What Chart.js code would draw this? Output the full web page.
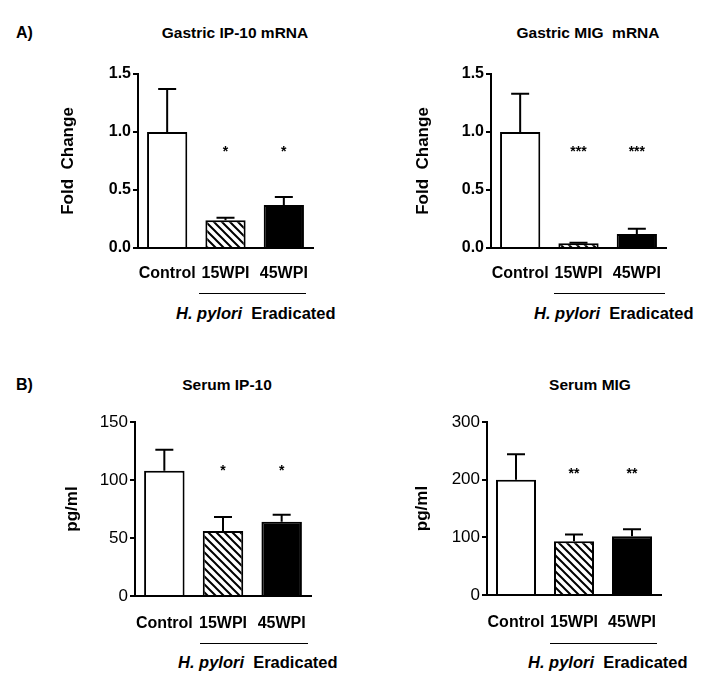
<!DOCTYPE html>
<html lang="en">
<head>
  <meta charset="UTF-8">
  <title>IP-10 and MIG after H. pylori eradication</title>
  <script src="https://cdn.jsdelivr.net/npm/chart.js"></script>
  <style>
    body {
      margin: 0;
      background: #fff;
      font-family: "Liberation Sans", Arial, sans-serif;
      color: #000;
    }
    .page {
      position: relative;
      width: 712px;
      height: 682px;
      overflow: hidden;
    }
    .page canvas {
      position: absolute;
    }
    .lbl {
      position: absolute;
      font-weight: bold;
      white-space: pre;
      line-height: 1;
    }
    .panel-title {
      font-size: 15.5px;
      transform: translate(-50%, -50%);
    }
    .panel-tag {
      font-size: 16px;
      transform: translateY(-50%);
    }
    .group-line {
      position: absolute;
      border-top: 1.5px solid #000;
    }
    .group-name {
      font-size: 16.5px;
      transform: translateY(-50%);
    }
  </style>
</head>
<body>
  <div class="page" id="page">
    <div class="lbl panel-tag" style="left:16px; top:33px;">A)</div>
    <div class="lbl panel-tag" style="left:16px; top:385px;">B)</div>

    <div class="lbl panel-title" style="left:235px; top:33px;">Gastric IP-10 mRNA</div>
    <div class="lbl panel-title" style="left:588px; top:33px;">Gastric MIG  mRNA</div>
    <div class="lbl panel-title" style="left:227px; top:385px;">Serum IP-10</div>
    <div class="lbl panel-title" style="left:590px; top:385px;">Serum MIG</div>

    <!-- H. pylori eradicated group brackets -->
    <div class="group-line" style="left:199px; top:293px; width:107px;"></div>
    <div class="group-line" style="left:554px; top:293px; width:111px;"></div>
    <div class="group-line" style="left:200px; top:643px; width:108px;"></div>
    <div class="group-line" style="left:550px; top:643px; width:107px;"></div>
    <div class="lbl group-name" style="left:176px; top:313px;"><i>H. pylori</i>  Eradicated</div>
    <div class="lbl group-name" style="left:534px; top:313px;"><i>H. pylori</i>  Eradicated</div>
    <div class="lbl group-name" style="left:178px; top:662px;"><i>H. pylori</i>  Eradicated</div>
    <div class="lbl group-name" style="left:528px; top:662px;"><i>H. pylori</i>  Eradicated</div>
  </div>

  <script>
    // ---- data ----
    const groups = ['Control', '15WPI', '45WPI'];

    const ip10Mrna = [1.0, 0.24, 0.37];
    const ip10MrnaErr = [0.37, 0.02, 0.07];
    const ip10MrnaStars = ['', '*', '*'];

    const migMrna = [1.0, 0.04, 0.12];
    const migMrnaErr = [0.33, 0.006, 0.045];
    const migMrnaStars = ['', '***', '***'];

    const ip10Serum = [108, 56, 64];
    const ip10SerumErr = [18, 12, 6];
    const ip10SerumStars = ['', '*', '*'];

    const migSerum = [200, 93, 102];
    const migSerumErr = [44, 12, 12];
    const migSerumStars = ['', '**', '**'];

    const foldTicks = [0, 0.5, 1.0, 1.5];
    const ip10Ticks = [0, 50, 100, 150];
    const migTicks = [0, 100, 200, 300];

    // height (in data units) where the significance marks sit
    const starLevels = [0.85, 0.85, 110, 215];

    // ---- drawing ----
    const FONT = '"Liberation Sans", Arial, sans-serif';

    function hatch() {
      const c = document.createElement('canvas');
      c.width = 8;
      c.height = 8;
      const g = c.getContext('2d');
      g.fillStyle = '#fff';
      g.fillRect(0, 0, 8, 8);
      g.strokeStyle = '#000';
      g.lineWidth = 2;
      g.beginPath();
      g.moveTo(-2, -2); g.lineTo(10, 10);
      g.moveTo(-2, 6); g.lineTo(2, 10);
      g.moveTo(6, -2); g.lineTo(10, 2);
      g.stroke();
      return g.createPattern(c, 'repeat');
    }

    // upper error whiskers + significance stars
    const markPlugin = {
      id: 'marks',
      afterDatasetsDraw(chart, args, opts) {
        const ctx = chart.ctx;
        const y = chart.scales.y;
        const meta = chart.getDatasetMeta(0);
        const vals = chart.data.datasets[0].data;
        ctx.save();
        ctx.strokeStyle = '#000';
        ctx.lineWidth = 2;
        meta.data.forEach((bar, i) => {
          const top = y.getPixelForValue(vals[i]);
          const end = y.getPixelForValue(vals[i] + opts.err[i]);
          ctx.beginPath();
          ctx.moveTo(bar.x, top);
          ctx.lineTo(bar.x, end);
          ctx.moveTo(bar.x - 9, end);
          ctx.lineTo(bar.x + 9, end);
          ctx.stroke();
          if (opts.stars[i]) {
            ctx.fillStyle = '#000';
            ctx.font = 'bold 14px ' + FONT;
            ctx.textAlign = 'center';
            ctx.textBaseline = 'middle';
            ctx.fillText(opts.stars[i], bar.x, y.getPixelForValue(opts.level) + 3);
          }
        });
        ctx.restore();
      }
    };

    function panel(p) {
      const cv = document.createElement('canvas');
      cv.width = p.w;
      cv.height = p.h;
      cv.style.left = p.left + 'px';
      cv.style.top = p.top + 'px';
      cv.style.width = p.w + 'px';
      cv.style.height = p.h + 'px';
      document.getElementById('page').appendChild(cv);

      const ticks = p.ticks;
      return new Chart(cv, {
        type: 'bar',
        data: {
          labels: groups,
          datasets: [{
            data: p.values,
            backgroundColor: ['#fff', hatch(), '#000'],
            borderColor: '#000',
            borderWidth: 2,
            barPercentage: 0.69,
            categoryPercentage: 1
          }]
        },
        options: {
          responsive: false,
          animation: false,
          layout: {
            padding: {
              left: 0,
              top: p.areaTop - p.top,
              right: p.left + p.w - p.areaRight,
              bottom: 0
            }
          },
          plugins: {
            legend: { display: false },
            tooltip: { enabled: false },
            marks: { err: p.err, stars: p.stars, level: p.level }
          },
          scales: {
            x: {
              afterFit: s => { s.height = p.top + p.h - p.areaBottom; },
              grid: { display: false, drawTicks: false },
              border: { display: true, color: '#000', width: 2 },
              ticks: {
                color: '#000',
                padding: p.labelGap,
                maxRotation: 0,
                autoSkip: false,
                font: { family: FONT, size: 16, weight: 'bold' }
              }
            },
            y: {
              min: ticks[0],
              max: ticks[ticks.length - 1],
              afterFit: s => { s.width = p.areaLeft - p.left; },
              afterBuildTicks: s => { s.ticks = ticks.map(v => ({ value: v })); },
              grid: {
                display: true,
                drawOnChartArea: false,
                drawTicks: true,
                tickLength: 5,
                color: '#000',
                lineWidth: 2
              },
              border: { display: true, color: '#000', width: 2 },
              ticks: {
                color: '#000',
                padding: 2,
                font: { family: FONT, size: p.tickSize, weight: p.tickWeight },
                callback: v => p.decimals ? Number(v).toFixed(p.decimals) : v
              },
              title: {
                display: true,
                text: p.yTitle,
                color: '#000',
                padding: { top: p.yTitleX - p.left - 10, bottom: 0 },
                font: { family: FONT, size: 17, weight: 'bold' }
              }
            }
          }
        },
        plugins: [markPlugin]
      });
    }

    panel({
      left: 0, top: 0, w: 356, h: 300,
      areaLeft: 138, areaRight: 313, areaTop: 74, areaBottom: 248,
      yTitleX: 68, yTitle: 'Fold  Change', labelGap: 16,
      values: ip10Mrna, err: ip10MrnaErr, stars: ip10MrnaStars, level: starLevels[0],
      ticks: foldTicks, decimals: 1, tickSize: 16, tickWeight: 'bold'
    });
    panel({
      left: 356, top: 0, w: 356, h: 300,
      areaLeft: 491, areaRight: 666, areaTop: 74, areaBottom: 248,
      yTitleX: 423, yTitle: 'Fold  Change', labelGap: 16,
      values: migMrna, err: migMrnaErr, stars: migMrnaStars, level: starLevels[1],
      ticks: foldTicks, decimals: 1, tickSize: 16, tickWeight: 'bold'
    });
    panel({
      left: 0, top: 340, w: 356, h: 300,
      areaLeft: 135, areaRight: 311, areaTop: 422, areaBottom: 596,
      yTitleX: 72, yTitle: 'pg/ml', labelGap: 18,
      values: ip10Serum, err: ip10SerumErr, stars: ip10SerumStars, level: starLevels[2],
      ticks: ip10Ticks, decimals: 0, tickSize: 17, tickWeight: 'normal'
    });
    panel({
      left: 356, top: 340, w: 356, h: 300,
      areaLeft: 487, areaRight: 661, areaTop: 422, areaBottom: 595,
      yTitleX: 422, yTitle: 'pg/ml', labelGap: 18,
      values: migSerum, err: migSerumErr, stars: migSerumStars, level: starLevels[3],
      ticks: migTicks, decimals: 0, tickSize: 17, tickWeight: 'normal'
    });
  </script>
</body>
</html>
